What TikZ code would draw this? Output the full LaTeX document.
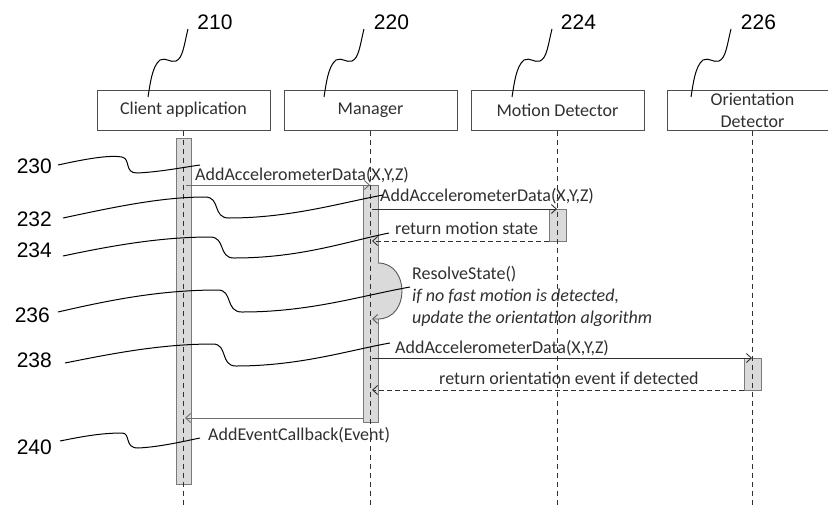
\documentclass[tikz,border=0pt]{standalone}
\usepackage{fontspec}
\setmainfont{Carlito}
\newfontfamily\numfont{Liberation Sans}
\usetikzlibrary{arrows.meta}
\definecolor{ink}{HTML}{303030}
\definecolor{barfill}{HTML}{DADADA}
\definecolor{barline}{HTML}{7A7A7A}
\tikzset{
  obj/.style={draw=ink!85, line width=1pt, minimum width=173pt, minimum height=40pt,
    inner sep=0pt, font=\fontsize{18}{22}\selectfont, text=ink, align=center},
  life/.style={draw=ink, line width=0.9pt, dash pattern=on 5pt off 4pt},
  actbar/.style={draw=barline, fill=barfill, line width=1pt},
  msg/.style={draw=ink, line width=0.9pt, -{Straight Barb[length=5pt,width=9pt]}},
  ret/.style={msg, dash pattern=on 5pt off 3pt},
  lbl/.style={font=\fontsize{18}{21}\selectfont, text=ink, inner sep=0pt},
  ilbl/.style={font=\fontsize{18}{21}\selectfont\itshape, text=ink, inner sep=0pt},
  num/.style={font=\numfont\fontsize{21}{24}\selectfont, text=black, inner sep=0pt},
  leader/.style={draw=black, line width=1pt},
}
\begin{document}
\begin{tikzpicture}[x=1pt,y=-1pt]
\useasboundingbox[fill=white] (0,0) rectangle (828,504);

% objects
\node[obj] (client) at (183.5,110) {Client application};
\node[obj] (mgr) at (370.5,110) {Manager};
\node[obj] (motion) at (557.5,110) {Motion Detector};
\node[obj, minimum width=171pt] (orient) at (752.5,110) {Orientation\\Detector};

% activation bars
\path[actbar] (176,138) rectangle (191,484);
\path[actbar] (363,185) rectangle (378,422);
\path[actbar] (549,209) rectangle (566,241);
\path[actbar] (744,358) rectangle (761,390);

% self call region
\fill[barfill] (378,263) .. controls (410,263) and (410,319) .. (378,319) -- cycle;

% lifelines
\draw[life] (client.south) -- ++(0,374);
\draw[life] (mgr.south) -- ++(0,374);
\draw[life] (motion.south) -- ++(0,374);
\draw[life] (orient.south) -- ++(0,374);

% message end points
\coordinate (m1a) at (186,185);   \coordinate (m1b) at (370,185);
\coordinate (m2a) at (372,209);   \coordinate (m2b) at (557,209);
\coordinate (m3a) at (549,241);   \coordinate (m3b) at (372,241);
\coordinate (s1)  at (378,263);   \coordinate (s2)  at (372,319);
\coordinate (m4a) at (372,358);   \coordinate (m4b) at (752,358);
\coordinate (m5a) at (744,390);   \coordinate (m5b) at (372,390);
\coordinate (m6a) at (363,418);   \coordinate (m6b) at (185,418);

% messages
\draw[msg, draw=ink!70] (m1a) -- (m1b);
\draw[msg] (m2a) -- (m2b);
\draw[ret] (m3a) -- (m3b);
\draw[msg, draw=ink!80] (s1) .. controls (410,263) and (410,319) .. (378,319) -- (s2);
\draw[msg] (m4a) -- (m4b);
\draw[ret] (m5a) -- (m5b);
\draw[msg, draw=ink!70] (m6a) -- (m6b);

% message labels
\node[lbl, anchor=base west] (l1) at (195,180) {AddAccelerometerData(X,Y,Z)};
\node[lbl, anchor=base west] (l2) at (380,201) {AddAccelerometerData(X,Y,Z)};
\node[lbl, anchor=base west] (l3) at (395,234) {return motion state};
\node[lbl, anchor=base west] (l4) at (412,279) {ResolveState()};
\node[ilbl, anchor=base west] (l5) at (412,301) {if no fast motion is detected,};
\node[ilbl, anchor=base west] (l6) at (412,323) {update the orientation algorithm};
\node[lbl, anchor=base west] (l7) at (395,353) {AddAccelerometerData(X,Y,Z)};
\node[lbl, anchor=base west] (l8) at (439,384) {return orientation event if detected};
\node[lbl, anchor=base west] (l9) at (208,440) {AddEventCallback(Event)};

% reference numerals
\node[num, anchor=base] (n210) at (215,29) {210};
\node[num, anchor=base] (n220) at (391.5,29) {220};
\node[num, anchor=base] (n224) at (578.5,29) {224};
\node[num, anchor=base] (n226) at (758.5,29) {226};
\node[num, anchor=base east] (n230) at (52,173) {230};
\node[num, anchor=base east] (n232) at (52,226) {232};
\node[num, anchor=base east] (n234) at (52,257) {234};
\node[num, anchor=base east] (n236) at (50,322) {236};
\node[num, anchor=base east] (n238) at (52,367) {238};
\node[num, anchor=base east] (n240) at (52,454) {240};

% top leaders
\foreach \dx in {0,176,364,543}{
  \draw[leader, shift={(\dx,0)}] (188,29) .. controls (184,45) and (183,58) .. (176,61)
     .. controls (170,63) and (166,57) .. (160,60) .. controls (152,66) and (150,85) .. (148,97);
}

% left leaders
\draw[leader] (58,165) .. controls (90,158) and (110,155) .. (122,157)
   .. controls (131,159) and (124,173) .. (137,173) .. controls (160,172) and (185,167) .. (200,165);
\draw[leader] (63,218) .. controls (110,208) and (160,197) .. (205,197)
   .. controls (221,197) and (212,218) .. (229,218) .. controls (290,218) and (340,203) .. (383,195);
\draw[leader] (63,256) .. controls (110,246) and (160,237) .. (210,237)
   .. controls (226,237) and (218,258) .. (234,258) .. controls (300,258) and (345,242) .. (389,233);
\draw[leader] (58,312) .. controls (110,300) and (160,290) .. (218,290)
   .. controls (233,290) and (225,312) .. (242,312) .. controls (310,312) and (360,296) .. (410,287);
\draw[leader] (65,363) .. controls (110,354) and (160,344) .. (213,344)
   .. controls (228,344) and (220,366) .. (236,366) .. controls (300,366) and (350,350) .. (390,343);
\draw[leader] (60,441) .. controls (80,437) and (100,433) .. (122,433)
   .. controls (131,433) and (124,448) .. (138,448) .. controls (160,447) and (185,441) .. (200,438);
\end{tikzpicture}
\end{document}
